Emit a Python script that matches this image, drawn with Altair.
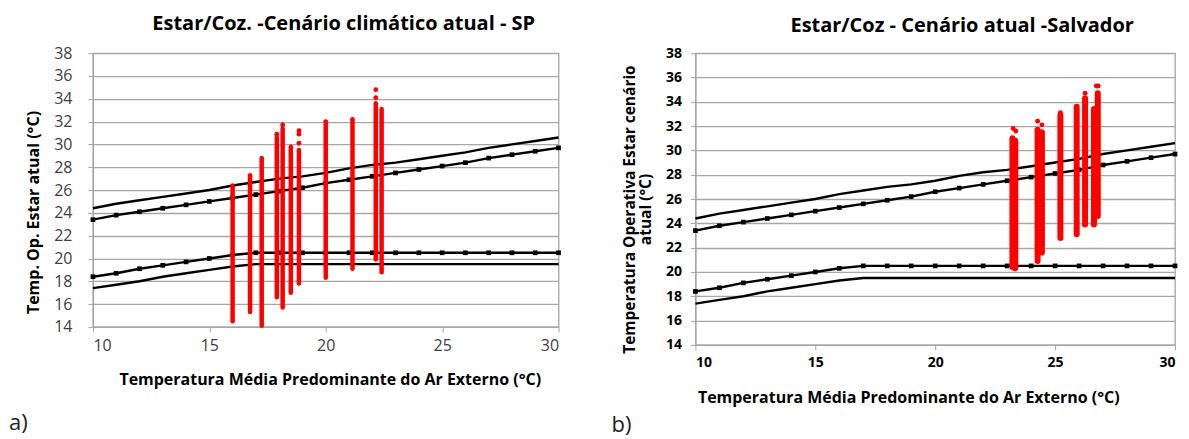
import altair as alt
import pandas as pd

# ---------------- data ----------------
x_ref = list(range(10, 31))
upper_line = [24.4, 24.8, 25.1, 25.4, 25.7, 26.0, 26.4, 26.7, 27.0, 27.2, 27.5,
              27.9, 28.2, 28.4, 28.7, 29.0, 29.3, 29.7, 30.0, 30.3, 30.6]
upper_mark = [23.4, 23.8, 24.1, 24.4, 24.7, 25.0, 25.3, 25.6, 25.9, 26.2, 26.6,
              26.9, 27.2, 27.5, 27.8, 28.1, 28.4, 28.8, 29.1, 29.4, 29.7]
lower_mark = [18.4, 18.7, 19.1, 19.4, 19.7, 20.0, 20.3, 20.5, 20.5, 20.5, 20.5,
              20.5, 20.5, 20.5, 20.5, 20.5, 20.5, 20.5, 20.5, 20.5, 20.5]
lower_line = [17.4, 17.7, 18.0, 18.4, 18.7, 19.0, 19.3, 19.5, 19.5, 19.5, 19.5,
              19.5, 19.5, 19.5, 19.5, 19.5, 19.5, 19.5, 19.5, 19.5, 19.5]

# São Paulo: simulated operative temperature columns
sp_x = [16.0, 16.75, 17.25, 17.9, 18.15, 18.5, 18.85, 20.0, 21.15, 22.15, 22.4]
sp_lo = [14.5, 15.3, 14.1, 16.6, 15.7, 17.0, 17.8, 18.3, 19.1, 19.9, 18.8]
sp_hi = [26.4, 27.3, 28.8, 30.6, 31.4, 29.8, 29.5, 31.8, 32.2, 33.6, 33.1]
sp_dot_x = [17.9, 18.15, 18.85, 18.85, 18.85, 22.15, 22.15, 20.0]
sp_dot_y = [30.9, 31.7, 31.2, 30.9, 30.1, 34.8, 34.1, 32.0]

# Salvador
sv_x = [23.22, 23.34, 24.27, 24.45, 25.22, 25.9, 26.25, 26.62, 26.78]
sv_lo = [20.4, 20.3, 20.9, 21.6, 22.8, 23.1, 23.9, 23.9, 24.6]
sv_hi = [31.0, 30.8, 31.7, 31.5, 32.9, 33.6, 34.3, 33.4, 34.7]
sv_dot_x = [23.25, 23.36, 24.27, 24.45, 25.22, 26.25, 26.8, 26.72]
sv_dot_y = [31.8, 31.6, 32.4, 32.1, 33.1, 34.7, 35.3, 35.3]

x_ticks = [10, 15, 20, 25, 30]
y_ticks = [14, 16, 18, 20, 22, 24, 26, 28, 30, 32, 34, 36, 38]

FONT = "Open Sans"

lines_df = pd.DataFrame({
    "x": x_ref * 4,
    "y": upper_line + upper_mark + lower_mark + lower_line,
    "s": ["ul"] * 21 + ["um"] * 21 + ["lm"] * 21 + ["ll"] * 21,
})
marks_df = pd.DataFrame({"x": x_ref * 2, "y": upper_mark + lower_mark})


def panel(col_x, col_lo, col_hi, dot_x, dot_y, w, h, bold, title, title_dx, title_off,
          ytitle, ytitle_size, ytitle_x, ytitle_y, xtitle_x, col_w, tag, tag_y, lab_pad):
    lab_font = 16 if not bold else 14
    lab_weight = "normal" if not bold else "bold"
    lab_color = "#404040" if not bold else "#000000"
    xs = alt.Scale(domain=[10, 30], nice=False, zero=False)
    ys = alt.Scale(domain=[14, 38], nice=False, zero=False)
    xa = alt.Axis(values=x_ticks, grid=False, title="Temperatura Média Predominante do Ar Externo (°C)",
                  labelFont=FONT, labelFontSize=lab_font, labelFontWeight=lab_weight,
                  labelColor=lab_color, labelPadding=6, tickSize=5, tickColor="#a6a6a6",
                  domainColor="#a6a6a6", domainWidth=1.3, labelOverlap=False,
                  titleFont=FONT, titleFontSize=16, titleFontWeight="bold",
                  titleColor="#000", titleX=xtitle_x, titleY=53, titleBaseline="middle",
                  titleAlign="center")
    ya = alt.Axis(values=y_ticks, grid=True, gridColor="#a6a6a6", gridWidth=1.3,
                  title=ytitle, labelFont=FONT, labelFontSize=lab_font,
                  labelFontWeight=lab_weight, labelColor=lab_color, labelPadding=lab_pad,
                  labelOverlap=False, labelBound=False, labelFlush=False,
                  tickSize=5, tickColor="#a6a6a6", domainColor="#a6a6a6", domainWidth=1.3,
                  titleFont=FONT, titleFontSize=ytitle_size, titleFontWeight="bold",
                  titleColor="#000", titleX=ytitle_x, titleY=ytitle_y,
                  titleAlign="center", titleBaseline="middle", titleAngle=270,
                  titleLineHeight=16)

    X = alt.X("x:Q", scale=xs, axis=xa)
    Y = alt.Y("y:Q", scale=ys, axis=ya)

    cols_df = pd.DataFrame({"x": col_x, "lo": col_lo, "hi": col_hi})
    dots_df = pd.DataFrame({"x": dot_x, "y": dot_y})

    base_lines = alt.Chart(lines_df).mark_line(color="black", strokeWidth=2.4).encode(
        x=X, y=Y, detail="s:N")
    sq = alt.Chart(marks_df).mark_square(color="black", size=22, opacity=1).encode(
        x=X, y=Y)
    cols = alt.Chart(cols_df).mark_rule(color="#ff0000", strokeWidth=col_w,
                                        strokeCap="round").encode(
        x=X, y=alt.Y("lo:Q", scale=ys, axis=ya), y2="hi:Q")
    dots = alt.Chart(dots_df).mark_circle(color="#ff0000", size=24, opacity=1).encode(
        x=X, y=Y)
    tag_c = alt.Chart(pd.DataFrame({"t": [tag]})).mark_text(
        font=FONT, fontSize=22, color="#222", align="left", baseline="middle").encode(
        text="t:N", x=alt.value(-84), y=alt.value(tag_y))
    return alt.layer(base_lines, sq, cols, dots, tag_c).properties(
        width=w, height=h,
        title=alt.TitleParams(title, font=FONT, fontSize=20, fontWeight="bold",
                              color="#000", anchor="middle", frame="group",
                              dx=title_dx, offset=title_off),
    )


left = panel(sp_x, sp_lo, sp_hi, sp_dot_x, sp_dot_y, 466, 274, False,
             "Estar/Coz. -Cenário climático atual - SP", 18, 11,
             "Temp. Op.  Estar atual (°C)", 16, -59, 159, 237, 4.5, "a)", 370, 16)
right = panel(sv_x, sv_lo, sv_hi, sv_dot_x, sv_dot_y, 480, 292, True,
              "Estar/Coz - Cenário atual -Salvador", 27, 10,
              ["Temperatura Operativa  Estar cenário", "atual (°C)"], 15.5, -66, 156, 213, 6,
              "b)", 372, 9)

chart = alt.hconcat(left, right, spacing=46).properties(
    padding={"left": 0, "top": 5, "right": 0, "bottom": 0}
).configure_view(stroke="#a6a6a6", strokeWidth=1.3)

chart.save("out.html", embed_options={"renderer": "svg", "actions": False})
